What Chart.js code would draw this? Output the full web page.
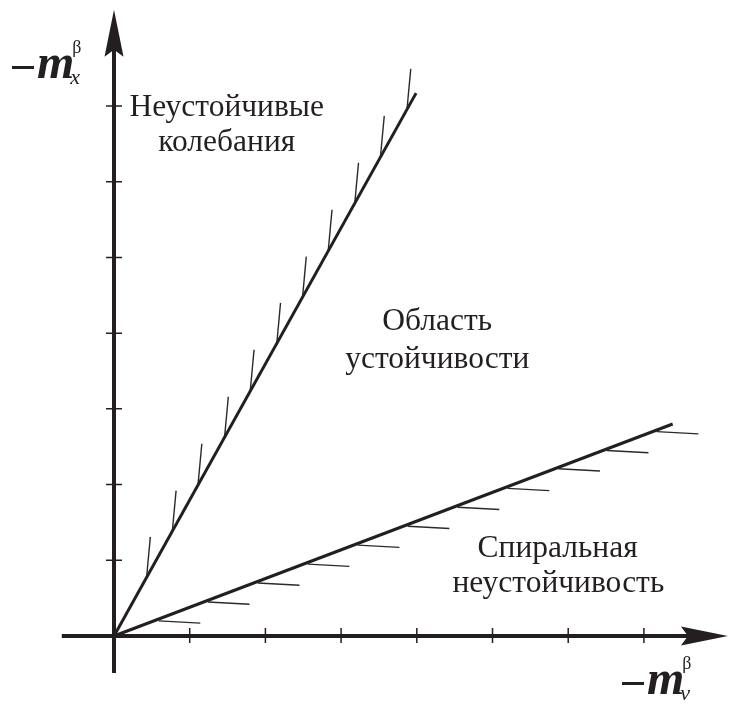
<!DOCTYPE html>
<html>
<head>
<meta charset="utf-8">
<script src="https://cdn.jsdelivr.net/npm/chart.js@4.4.1/dist/chart.umd.min.js"></script>
<style>
  html, body { margin: 0; padding: 0; background: #fff; }
  #chart-container { width: 729px; height: 704px; }
</style>
</head>
<body>
<div id="chart-container"><canvas id="myChart"></canvas></div>
<script>
// axis ticks (both axes, in tick units)
const axisTicks = [1, 2, 3, 4, 5, 6, 7]

// boundary lines from origin
const steepLineX = [0, 3.99]
const steepLineY = [0, 7.17]
const flatLineX = [0, 7.38]
const flatLineY = [0, 2.80]

// hatch marks on the steep line: base point and tip
const steepHatchX = [0.43, 0.77, 1.11, 1.46, 1.80, 2.15, 2.49, 2.83, 3.18, 3.52, 3.87]
const steepHatchY = [0.77, 1.38, 2.00, 2.62, 3.24, 3.86, 4.47, 5.09, 5.71, 6.33, 6.95]
const steepTipX = [0.48, 0.82, 1.16, 1.51, 1.85, 2.20, 2.54, 2.88, 3.23, 3.57, 3.92]
const steepTipY = [1.31, 1.92, 2.54, 3.16, 3.78, 4.40, 5.01, 5.63, 6.25, 6.87, 7.49]

// hatch marks on the flat line
const flatHatchX = [0.59, 1.24, 1.90, 2.56, 3.22, 3.88, 4.54, 5.20, 5.87, 6.51, 7.17]
const flatHatchY = [0.20, 0.45, 0.70, 0.95, 1.20, 1.45, 1.70, 1.95, 2.21, 2.45, 2.70]
const flatTipX = [1.14, 1.79, 2.45, 3.11, 3.77, 4.43, 5.09, 5.75, 6.42, 7.06, 7.72]
const flatTipY = [0.17, 0.42, 0.67, 0.92, 1.17, 1.42, 1.67, 1.92, 2.18, 2.42, 2.67]

// region labels: lines of text and their centre in data units
const regionLabels = [
  { text: 'Неустойчивые', x: 1.49, y: 6.87 },
  { text: 'колебания', x: 1.49, y: 6.40 },
  { text: 'Область', x: 4.27, y: 4.04 },
  { text: 'устойчивости', x: 4.27, y: 3.54 },
  { text: 'Спиральная', x: 5.86, y: 1.04 },
  { text: 'неустойчивость', x: 5.87, y: 0.58 },
]

const ink = '#231f20'

const toPts = (xs, ys) => xs.map((x, i) => ({ x: x, y: ys[i] }))

const hatchSets = []
steepHatchX.forEach((x, i) => {
  hatchSets.push({ data: [{ x: x, y: steepHatchY[i] }, { x: steepTipX[i], y: steepTipY[i] }] })
})
flatHatchX.forEach((x, i) => {
  hatchSets.push({ data: [{ x: x, y: flatHatchY[i] }, { x: flatTipX[i], y: flatTipY[i] }] })
})
hatchSets.forEach(d => {
  d.borderColor = '#2a2a2a'
  d.borderWidth = 1.4
  d.pointRadius = 0
})

const arrowHead = (ctx, tx, ty, dx, dy) => {
  // dx,dy: unit direction of the arrow
  const len = 47, half = 9.5, notch = 40
  const nx = -dy, ny = dx
  ctx.beginPath()
  ctx.moveTo(tx, ty)
  ctx.lineTo(tx - dx * len + nx * half, ty - dy * len + ny * half)
  ctx.lineTo(tx - dx * notch, ty - dy * notch)
  ctx.lineTo(tx - dx * len - nx * half, ty - dy * len - ny * half)
  ctx.closePath()
  ctx.fill()
}

const axesPlugin = {
  id: 'axes',
  afterDatasetsDraw(chart) {
    const ctx = chart.ctx
    const xs = chart.scales.x, ys = chart.scales.y
    const ox = xs.getPixelForValue(0), oy = ys.getPixelForValue(0)
    ctx.save()
    ctx.strokeStyle = ink
    ctx.fillStyle = ink
    ctx.lineCap = 'butt'
    // axis lines
    ctx.lineWidth = 4
    ctx.beginPath()
    ctx.moveTo(xs.getPixelForValue(-0.69), oy)
    ctx.lineTo(xs.getPixelForValue(7.6), oy)
    ctx.moveTo(ox, ys.getPixelForValue(-0.49))
    ctx.lineTo(ox, ys.getPixelForValue(7.8))
    ctx.stroke()
    arrowHead(ctx, xs.getPixelForValue(8.11), oy, 1, 0)
    arrowHead(ctx, ox, ys.getPixelForValue(8.27), 0, -1)
    // ticks
    ctx.lineWidth = 1.5
    ctx.beginPath()
    axisTicks.forEach(t => {
      const px = xs.getPixelForValue(t)
      ctx.moveTo(px, oy - 8)
      ctx.lineTo(px, oy + 7)
      const py = ys.getPixelForValue(t)
      ctx.moveTo(ox - 8, py)
      ctx.lineTo(ox + 8, py)
    })
    ctx.stroke()

    // region labels
    ctx.font = '31.5px "Liberation Serif", "Times New Roman", serif'
    ctx.textAlign = 'center'
    ctx.textBaseline = 'alphabetic'
    regionLabels.forEach(l => {
      ctx.fillText(l.text, xs.getPixelForValue(l.x), ys.getPixelForValue(l.y))
    })

    // axis titles
    const axisTitle = (left, base, sub) => {
      ctx.textAlign = 'left'
      ctx.fillRect(left, base - 12, 22, 3)
      let x = left + 25
      ctx.font = 'italic bold 48px "Liberation Serif", serif'
      ctx.fillText('m', x, base)
      x += ctx.measureText('m').width - 4
      ctx.font = 'italic 22px "Liberation Serif", serif'
      ctx.fillText(sub, x, base + 6)
      ctx.font = '18px "Liberation Serif", serif'
      ctx.fillText('β', x + 2, base - 25)
    }
    axisTitle(12, 78, 'x')
    axisTitle(622, 694, 'v')
    ctx.restore()
  }
}

const config = {
  type: 'line',
  data: {
    datasets: [
      { data: toPts(steepLineX, steepLineY), borderColor: ink, borderWidth: 3, pointRadius: 0 },
      { data: toPts(flatLineX, flatLineY), borderColor: ink, borderWidth: 3, pointRadius: 0 },
      ...hatchSets,
    ]
  },
  options: {
    responsive: true,
    maintainAspectRatio: false,
    animation: false,
    layout: { padding: 0 },
    plugins: { legend: { display: false }, tooltip: { enabled: false } },
    scales: {
      x: { type: 'linear', min: -1.506, max: 8.124, display: false },
      y: { type: 'linear', min: -0.898, max: 8.40, display: false },
    }
  },
  plugins: [axesPlugin]
}

const myChart = new Chart(document.getElementById('myChart'), config)
</script>
</body>
</html>
